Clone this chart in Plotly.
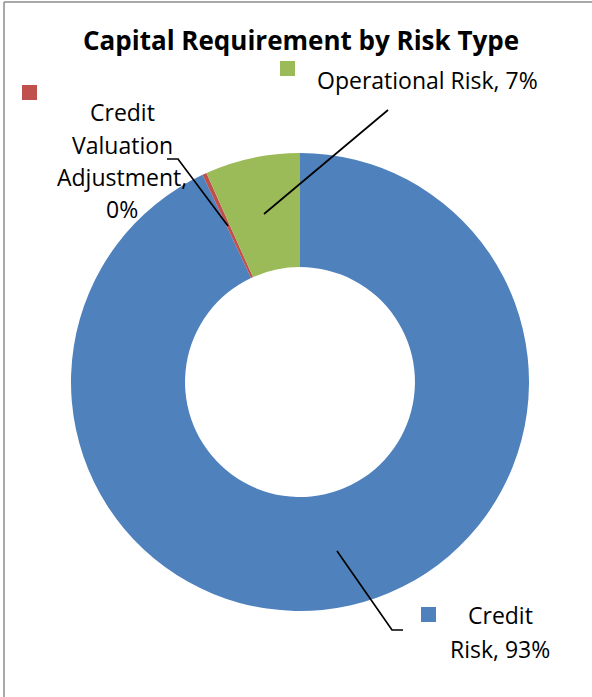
import plotly.graph_objects as go

W, H = 592, 697

categories = ["Credit Risk", "Credit Valuation Adjustment", "Operational Risk"]
values = [93.0, 0.3, 6.7]
label_pct = ["93%", "0%", "7%"]
colors = ["#4F81BD", "#C0504D", "#9BBB59"]
title_text = "Capital Requirement by Risk Type"

FONT = "Open Sans, Lato, sans-serif"


def X(px):
    return px / W


def Y(py):
    return 1 - py / H


fig = go.Figure()
fig.add_trace(go.Pie(
    labels=categories,
    values=values,
    hole=0.502,
    sort=False,
    direction="clockwise",
    rotation=0,
    marker=dict(colors=colors, line=dict(width=0)),
    textinfo="none",
    hoverinfo="label+percent",
    showlegend=False,
    domain=dict(x=[X(71), X(529)], y=[Y(611), Y(153)]),
))

annotations = []
shapes = []

# title
annotations.append(dict(text="<b>" + title_text + "</b>", x=X(301), y=Y(40),
                        xref="paper", yref="paper", xanchor="center", yanchor="middle",
                        showarrow=False, font=dict(family=FONT, size=26, color="#000")))

LBL = dict(family=FONT, size=23, color="#000")

# Operational Risk label
annotations.append(dict(text=f"{categories[2]}, {label_pct[2]}", x=X(315), y=Y(80),
                        xref="paper", yref="paper", xanchor="left", yanchor="middle",
                        showarrow=False, font=LBL))
# CVA label lines
cva_lines = ["Credit", "Valuation", "Adjustment,", label_pct[1]]
for i, t in enumerate(cva_lines):
    annotations.append(dict(text=t, x=X(122), y=Y(112.5 + 32.3 * i),
                            xref="paper", yref="paper", xanchor="center", yanchor="middle",
                            showarrow=False, font=LBL))
# Credit Risk label lines
cr_lines = ["Credit", f"Risk, {label_pct[0]}"]
for i, t in enumerate(cr_lines):
    annotations.append(dict(text=t, x=X(500), y=Y(615 + 34 * i),
                            xref="paper", yref="paper", xanchor="center", yanchor="middle",
                            showarrow=False, font=LBL))

# legend keys
for (x0, y0), c in zip([(421, 607), (22, 85), (280, 61)], colors):
    shapes.append(dict(type="rect", xref="paper", yref="paper",
                       x0=X(x0), x1=X(x0 + 15), y0=Y(y0), y1=Y(y0 + 15),
                       fillcolor=c, line=dict(width=0)))


def path(pts):
    return "M " + " L ".join(f"{X(a)},{Y(b)}" for a, b in pts)


leaders = [
    [(337, 551), (392, 630), (403, 630)],
    [(167, 159), (178, 159), (228, 226)],
    [(388, 110), (264, 214)],
]
for pts in leaders:
    shapes.append(dict(type="path", xref="paper", yref="paper", path=path(pts),
                       line=dict(color="#000", width=1.7)))

# chart area border (top and left visible)
shapes.append(dict(type="line", xref="paper", yref="paper", x0=X(4), x1=X(W), y0=Y(2), y1=Y(2),
                   line=dict(color="#8c8c8c", width=1.5)))
shapes.append(dict(type="line", xref="paper", yref="paper", x0=X(4), x1=X(4), y0=Y(2), y1=Y(H),
                   line=dict(color="#8c8c8c", width=1.5)))

fig.update_layout(
    width=W, height=H,
    margin=dict(l=0, r=0, t=0, b=0),
    paper_bgcolor="white", plot_bgcolor="white",
    annotations=annotations, shapes=shapes,
)

fig.write_html("out.html", config=dict(displayModeBar=False),
               post_script="document.body.style.margin='0';document.body.style.padding='0';document.body.style.overflow='hidden';")
